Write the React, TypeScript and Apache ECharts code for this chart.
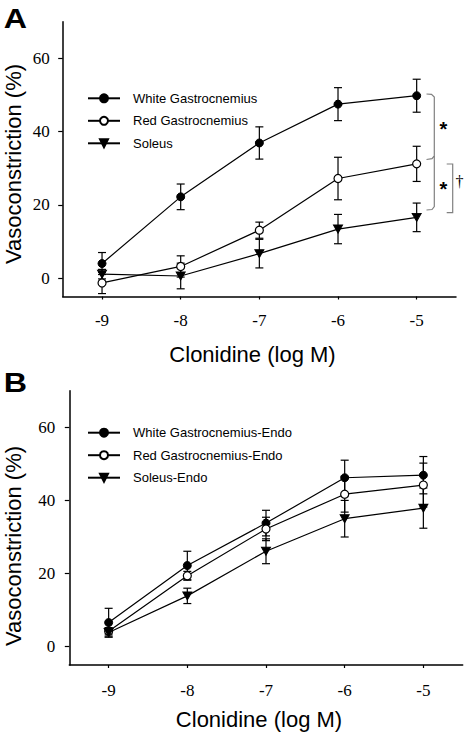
import React, { useEffect, useRef } from "react";
import * as echarts from "echarts";

const doses = [-9, -8, -7, -6, -5];
const yTicks = [0, 20, 40, 60];
const X_MIN = -9.5;
const X_MAX = -4.5;
const Y_MIN = -5;
const Y_MAX = 70;

const namesA = ["White Gastrocnemius", "Red Gastrocnemius", "Soleus"];
const whiteA = [4.0, 22.2, 36.9, 47.5, 49.8];
const whiteAErr = [3.0, 3.5, 4.4, 4.5, 4.5];
const redA = [-1.3, 3.2, 13.1, 27.2, 31.2];
const redAErr = [2.9, 2.9, 2.2, 5.8, 4.8];
const solA = [1.1, 0.6, 6.7, 13.4, 16.6];
const solAErr = [1.3, 3.5, 3.9, 4.0, 3.9];

const namesB = ["White Gastrocnemius-Endo", "Red Gastrocnemius-Endo", "Soleus-Endo"];
const whiteB = [6.6, 22.2, 33.8, 46.2, 46.9];
const whiteBErr = [3.9, 3.9, 3.5, 4.8, 5.1];
const redB = [4.2, 19.4, 32.2, 41.7, 44.2];
const redBErr = [1.0, 1.2, 3.2, 4.9, 6.0];
const solB = [3.9, 13.9, 26.1, 35.0, 37.9];
const solBErr = [1.3, 2.1, 3.4, 5.0, 5.5];

const SANS = "Liberation Sans";
const SERIF = "Liberation Serif";
const BLACK = "#000";
const GRAY = "#808080";

const markerStyles = [
  { symbol: "circle", symbolSize: 8, symbolRotate: 0, itemStyle: { color: BLACK, borderColor: BLACK, borderWidth: 1 } },
  { symbol: "circle", symbolSize: 8, symbolRotate: 0, itemStyle: { color: "#fff", borderColor: BLACK, borderWidth: 1.2 } },
  { symbol: "triangle", symbolSize: [9, 8], symbolRotate: 180, itemStyle: { color: BLACK, borderColor: BLACK, borderWidth: 1 } },
];

function lineSeries(name: string, vals: number[], idx: number, k: number) {
  const m = markerStyles[k];
  return {
    type: "line",
    name,
    xAxisIndex: idx,
    yAxisIndex: idx,
    data: doses.map((d, i) => [d, vals[i]]),
    symbol: m.symbol,
    symbolSize: m.symbolSize,
    symbolRotate: m.symbolRotate,
    itemStyle: m.itemStyle,
    lineStyle: { color: BLACK, width: 1.2 },
    z: 3,
  };
}

function errSeries(vals: number[], errs: number[], idx: number) {
  return {
    type: "custom",
    xAxisIndex: idx,
    yAxisIndex: idx,
    data: doses.map((d, i) => [d, vals[i] - errs[i], vals[i] + errs[i]]),
    encode: { x: 0, y: [1, 2] },
    z: 2,
    silent: true,
    renderItem: (params: any, api: any) => {
      const x = api.value(0);
      const lo = api.coord([x, api.value(1)]);
      const hi = api.coord([x, api.value(2)]);
      const hw = 4;
      const st = { stroke: BLACK, lineWidth: 1.2 };
      return {
        type: "group",
        children: [
          { type: "line", shape: { x1: lo[0], y1: lo[1], x2: hi[0], y2: hi[1] }, style: st },
          { type: "line", shape: { x1: lo[0] - hw, y1: lo[1], x2: lo[0] + hw, y2: lo[1] }, style: st },
          { type: "line", shape: { x1: hi[0] - hw, y1: hi[1], x2: hi[0] + hw, y2: hi[1] }, style: st },
        ],
      };
    },
  };
}

// tick labels drawn through the axes' scales (serif, like the original)
function xLabelSeries(idx: number, dy: number) {
  return {
    type: "custom",
    xAxisIndex: idx,
    yAxisIndex: idx,
    data: doses.map((d) => [d, Y_MIN]),
    encode: { x: 0, y: 1 },
    z: 5,
    silent: true,
    renderItem: (params: any, api: any) => {
      const v = api.value(0);
      const p = api.coord([v, api.value(1)]);
      return {
        type: "text",
        x: p[0],
        y: p[1] + dy,
        style: {
          text: String(v),
          fontFamily: SERIF,
          fontSize: 17,
          fill: BLACK,
          textAlign: "center",
          textVerticalAlign: "middle",
          verticalAlign: "middle",
        },
      };
    },
  };
}

function yLabelSeries(idx: number, dx: number) {
  return {
    type: "custom",
    xAxisIndex: idx,
    yAxisIndex: idx,
    data: yTicks.map((t) => [X_MIN, t]),
    encode: { x: 0, y: 1 },
    z: 5,
    silent: true,
    renderItem: (params: any, api: any) => {
      const v = api.value(1);
      const p = api.coord([api.value(0), v]);
      return {
        type: "text",
        x: p[0] - dx,
        y: p[1],
        style: {
          text: String(v),
          fontFamily: SERIF,
          fontSize: 17,
          fill: BLACK,
          textAlign: "right",
          textVerticalAlign: "middle",
          verticalAlign: "middle",
        },
      };
    },
  };
}

function xAxis(idx: number) {
  return {
    type: "value",
    gridIndex: idx,
    min: X_MIN,
    max: X_MAX,
    axisLine: { onZero: false, lineStyle: { color: BLACK, width: 1.5 } },
    axisTick: { show: true, length: 3, customValues: doses, lineStyle: { color: BLACK, width: 1.2 } },
    axisLabel: { show: false },
    splitLine: { show: false },
  };
}

function yAxis(idx: number) {
  return {
    type: "value",
    gridIndex: idx,
    min: Y_MIN,
    max: Y_MAX,
    axisLine: { show: true, onZero: false, lineStyle: { color: BLACK, width: 1.5 } },
    axisTick: { show: true, length: 4.5, customValues: yTicks, lineStyle: { color: BLACK, width: 1.2 } },
    axisLabel: { show: false },
    splitLine: { show: false },
  };
}

function legend(names: string[], top: number) {
  return {
    data: names,
    orient: "vertical",
    left: 87,
    top,
    padding: 0,
    itemWidth: 32,
    itemHeight: 10,
    itemGap: 9.5,
    selectedMode: false,
    textStyle: { fontFamily: SANS, fontSize: 13, color: BLACK, padding: [0, 0, 0, 8] },
  };
}

function txt(text: string, x: number, y: number, size: number, extra: any = {}) {
  return {
    type: "text",
    x,
    y,
    ...extra,
    style: {
      text,
      fontFamily: SANS,
      fontSize: size,
      fill: BLACK,
      textAlign: "center",
      textVerticalAlign: "middle",
      ...(extra.style || {}),
    },
  };
}

export default function App() {
  const ref = useRef<HTMLDivElement>(null);
  useEffect(() => {
    document.body.style.margin = "0";
    const chart = echarts.init(ref.current!, null, { renderer: "svg" });
    const bStyle = { stroke: GRAY, lineWidth: 1.2, fill: "none" };
    chart.setOption({
      animation: false,
      backgroundColor: "#fff",
      grid: [
        { left: 62.7, top: 21.7, width: 393.3, height: 274.8 },
        { left: 69.3, top: 390.7, width: 393.4, height: 274.3 },
      ],
      xAxis: [xAxis(0), xAxis(1)],
      yAxis: [yAxis(0), yAxis(1)],
      legend: [legend(namesA, 91.8), legend(namesB, 426.2)],
      series: [
        errSeries(whiteA, whiteAErr, 0),
        errSeries(redA, redAErr, 0),
        errSeries(solA, solAErr, 0),
        lineSeries(namesA[0], whiteA, 0, 0),
        lineSeries(namesA[1], redA, 0, 1),
        lineSeries(namesA[2], solA, 0, 2),
        errSeries(whiteB, whiteBErr, 1),
        errSeries(redB, redBErr, 1),
        errSeries(solB, solBErr, 1),
        lineSeries(namesB[0], whiteB, 1, 0),
        lineSeries(namesB[1], redB, 1, 1),
        lineSeries(namesB[2], solB, 1, 2),
        xLabelSeries(0, 24),
        xLabelSeries(1, 25),
        yLabelSeries(0, 13),
        yLabelSeries(1, 14),
      ],
      graphic: [
        txt("A", 18, 18, 28, { scaleX: 1.15, originX: 18, originY: 18, style: { fontWeight: "bold" } }),
        txt("B", 18, 382, 28, { scaleX: 1.15, originX: 18, originY: 382, style: { fontWeight: "bold" } }),
        txt("Vasoconstriction (%)", 13, 164, 22, { rotation: Math.PI / 2 }),
        txt("Vasoconstriction (%)", 13, 546, 22, { rotation: Math.PI / 2 }),
        txt("Clonidine (log M)", 252.5, 354, 22),
        txt("Clonidine (log M)", 259, 719, 22),
        {
          type: "polyline",
          shape: { points: [[426.5, 94], [431.5, 94.3], [434.3, 97], [434.3, 156], [432, 158.7], [426.5, 159.5]] },
          style: bStyle,
        },
        {
          type: "polyline",
          shape: { points: [[434.3, 156], [434.3, 206.5], [432, 209.5], [426.5, 210]] },
          style: bStyle,
        },
        {
          type: "polyline",
          shape: { points: [[446.7, 164], [452.7, 164], [452.7, 212.7], [446.7, 212.7]] },
          style: bStyle,
        },
        txt("*", 443.5, 128.5, 20, { style: { fontWeight: "bold" } }),
        txt("*", 443.5, 188.5, 20, { style: { fontWeight: "bold" } }),
        txt("†", 459.5, 181, 16, { style: { fontFamily: SERIF } }),
      ],
    });
    return () => chart.dispose();
  }, []);
  return <div ref={ref} style={{ width: 467, height: 732 }} />;
}
